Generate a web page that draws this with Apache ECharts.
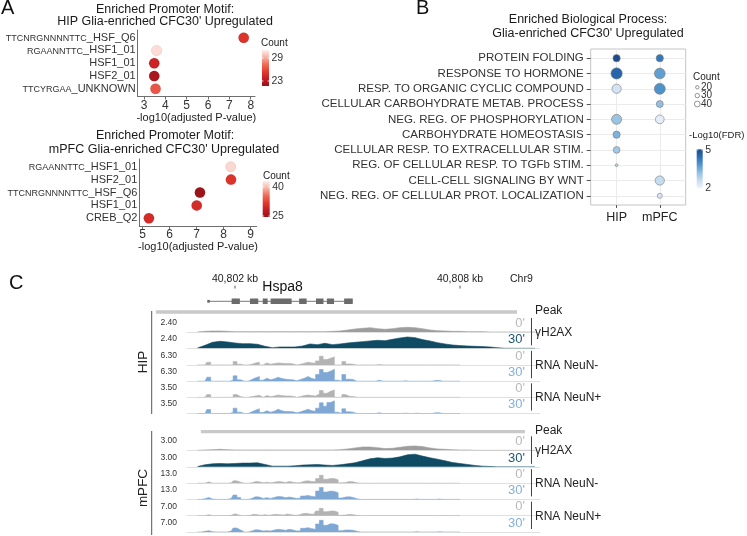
<!DOCTYPE html>
<html><head><meta charset="utf-8">
<script src="https://cdn.jsdelivr.net/npm/echarts@6/dist/echarts.min.js"></script>
<style>html,body{margin:0;padding:0;background:#fff}#c{width:747px;height:536px}</style>
</head><body><div id="c"></div>
<script>
// ================= DATA =================
// Panel A (top): HIP motifs
const A1_LABELS = ["TTCNRGNNNNTTC_HSF_Q6","RGAANNTTC_HSF1_01","HSF1_01","HSF2_01","TTCYRGAA_UNKNOWN"];
const A1_LOGP   = [7.67, 3.59, 3.48, 3.48, 3.54];
const A1_COUNT  = [25, 30.5, 24, 22.5, 26.5];
const A1_TICKS  = [3,4,5,6,7,8];
const A1_CBAR_TICKS = [29, 23];
// Panel A (bottom): mPFC motifs
const A2_LABELS = ["RGAANNTTC_HSF1_01","HSF2_01","TTCNRGNNNNTTC_HSF_Q6","HSF1_01","CREB_Q2"];
const A2_LOGP   = [8.26, 8.27, 7.12, 7.0, 5.23];
const A2_COUNT  = [41.5, 31, 25, 30, 30];
const A2_TICKS  = [5,6,7,8,9];
const A2_CBAR_TICKS = [40, 25];
// Panel B: GO biological process
const B_TERMS = ["PROTEIN FOLDING","RESPONSE TO HORMONE","RESP. TO ORGANIC CYCLIC COMPOUND","CELLULAR CARBOHYDRATE METAB. PROCESS","NEG. REG. OF PHOSPHORYLATION","CARBOHYDRATE HOMEOSTASIS","CELLULAR RESP. TO EXTRACELLULAR STIM.","REG. OF CELLULAR RESP. TO TGFb STIM.","CELL-CELL SIGNALING BY WNT","NEG. REG. OF CELLULAR PROT. LOCALIZATION"];
const B_GROUPS = ["HIP","mPFC"];
const B_HIP_COUNT  = [29,45,37,null,40,29,27,11,null,null];
const B_HIP_FDR    = [5.0,4.6,2.4,null,3.1,3.4,3.0,2.8,null,null];
const B_MPFC_COUNT = [29,43,44,28,35,null,null,null,37,20];
const B_MPFC_FDR   = [4.3,3.7,3.9,3.2,2.1,null,null,null,2.6,2.3];
const B_SIZE_LEGEND = [20,30,40];
const B_FDR_TICKS = [5,2];
// Panel C: genome browser (Chr9, kb)
const KB_TICKS = [40802, 40808];
const KB_TICK_LABELS = ["40,802 kb","40,808 kb"];
const CHROM = "Chr9";
const GENE_NAME = "Hspa8";
const GENE_SPAN = [40801.29, 40805.14];
const EXONS = [[40801.26,40801.33],[40801.91,40802.13],[40802.40,40802.62],[40802.74,40802.87],[40802.95,40803.51],[40803.71,40803.91],[40804.16,40804.36],[40804.45,40804.64],[40804.91,40805.14]];
const HIP_PEAK  = [40799.89, 40809.52];
const MPFC_PEAK = [40801.09, 40809.73];
// gamma-H2AX coverage bins: start 40801.0 kb, 0.2 kb steps (46 bins)
const GH_BIN_START = 40801.0, GH_BIN_KB = 0.2;
const HIP_GH_0  = [0,0.11,0.17,0.17,0.11,0.06,0.06,0.06,0.06,0.06, 0.06,0.06,0.06,0.06,0.06,0.06,0.06,0.06,0.11,0.17, 0.34,0.51,0.63,0.74,0.57,0.46,0.57,0.74,0.8,0.74, 0.57,0.34,0.23,0.17,0.11,0.11,0.06,0.06,0.06,0, 0,0,0,0,0,0];
const HIP_GH_30 = [0.06,0.51,1.03,1.2,1.09,0.91,0.8,0.8,0.69,0.34, 0.11,0.23,0.23,0.23,0.4,0.74,0.63,0.86,0.63,0.74, 0.91,1.03,1.14,1.26,1.37,1.31,1.54,1.77,1.94,1.83, 1.49,1.26,0.97,0.74,0.57,0.46,0.4,0.34,0.29,0.23, 0.11,0,0,0,0,0];
const MPFC_GH_0  = [0,0.07,0.14,0.21,0.14,0.07,0.07,0.07,0.07,0.07, 0.07,0.07,0.07,0.07,0.07,0.07,0.07,0.07,0.07,0.14, 0.29,0.5,0.71,0.71,0.57,0.36,0.43,0.64,0.86,0.93, 0.79,0.5,0.29,0.21,0.14,0.07,0.07,0,0,0, 0,0,0,0,0,0];
const MPFC_GH_30 = [0.07,0.43,0.64,0.71,0.64,0.71,0.79,0.79,0.86,0.5, 0.14,0.14,0.14,0.21,0.36,0.43,0.5,0.36,0.29,0.43, 0.64,0.86,1.29,1.71,1.93,1.79,1.86,2.14,2.57,2.71, 2.29,1.93,1.64,1.29,0.93,0.71,0.5,0.29,0.14,0.07, 0,0,0,0,0,0];
// RNA coverage bins: start 40801.0 kb, 0.1 kb steps (71 bins)
const RNA_BIN_START = 40801.0, RNA_BIN_KB = 0.1;
const HIP_NNEG_0 = [0,0,0,1.2,0,0,0,0,0,0, 1.5,0.3,0,0,0.3,0.9,1.2,0,0.9,0.3, 0.6,0.9,0.75,0.6,0.6,0.45,0,0.3,0.75,1.2, 0.9,0.75,1.8,3.9,2.4,3.0,3.6,0,0,1.5, 0.45,0.3,0,0,0,0,0,0,0.15,0, 0,0,0,0,0,0,0,0,0,0, 0,0,0,0,0,0,0,0,0,0,0];
const HIP_NNEG_30 = [0,0,0,1.8,0,0,0,0,0,0.45, 2.4,0.6,0,0,0.75,1.5,2.1,0.45,1.35,0.6, 1.05,1.8,1.2,0.9,0.75,0.6,0.15,0.75,1.35,2.1, 1.2,0.9,3.0,5.25,3.9,4.5,5.4,0.45,0,3.0, 0.9,0.75,0,0,0,0,0,0,0.45,0, 0,0,0,0,0,0.15,0,0,0,0, 0,0,0,0.3,0.3,0,0,0,0,0,0];
const HIP_NPOS_0 = [0,0,0,0.67,0,0,0,0,0,0, 0.67,0.17,0,0,0.17,0.33,0.5,0,0.42,0.17, 0.33,0.58,0.42,0.33,0.33,0.25,0,0.17,0.42,0.58, 0.42,0.33,0.83,1.67,1.0,1.5,1.83,0,0,0.67, 0.25,0.17,0,0,0,0,0,0,0,0, 0,0,0,0,0,0,0,0,0,0, 0,0,0,0,0,0,0,0,0,0,0];
const HIP_NPOS_30 = [0,0,0,1.0,0,0,0,0,0,0.25, 1.33,0.33,0,0,0.42,0.83,1.17,0.25,0.67,0.33, 0.58,1.08,0.67,0.5,0.5,0.42,0.17,0.42,0.75,1.08, 0.67,0.58,1.33,2.67,1.83,2.75,3.17,0.33,0,1.17, 0.42,0.33,0,0,0,0,0,0,0.17,0, 0,0,0,0,0,0.08,0,0,0.08,0, 0,0,0,0.17,0.17,0,0,0,0,0,0];
const MPFC_NNEG_0 = [0,0,0,1.24,0,0,0,0,0,0.31, 2.17,0.93,0,0,0.31,1.55,1.24,0.31,0.93,0.31, 0.93,1.55,1.24,0.62,1.55,0.93,0.31,0.62,1.86,2.17, 1.55,1.24,4.33,7.4,3.71,4.33,4.33,3.1,0.31,0.62, 1.55,1.24,0.31,0,0,0,0,0,0,0, 0,0,0,0,0,0,0,0,0,0, 0,0,0,0,0,0,0,0,0,0,0];
const MPFC_NNEG_30 = [0,0,0.62,1.86,0.31,0,0,0,0,0.93, 4.0,1.86,0,0,0.93,2.48,2.17,0.93,1.55,0.93, 1.86,2.79,2.48,1.55,2.17,1.55,0.93,1.24,3.1,3.71, 2.79,2.48,7.74,11.1,6.81,7.74,7.43,6.19,1.24,2.17, 2.48,1.86,0.62,0,0,0,0,0,0,0, 0,0,0,0,0,0,0,0,0.31,0, 0,0,0,0,0.31,0,0,0,0,0,0];
const MPFC_NPOS_0 = [0,0,0,0.5,0,0,0,0,0,0.17, 1.0,0.33,0,0,0.17,0.67,0.5,0.17,0.5,0.17, 0.5,0.67,0.5,0.33,0.83,0.5,0.17,0.33,1.0,1.17, 0.83,0.67,2.33,3.67,2.0,2.33,2.33,1.67,0.17,0.33, 0.67,0.5,0.17,0,0,0,0,0,0,0, 0,0,0,0,0,0,0,0,0,0, 0,0,0,0,0,0,0,0,0,0,0];
const MPFC_NPOS_30 = [0,0,0.33,0.67,0.17,0,0,0,0,0.5, 2.0,1.0,0,0,0.5,1.17,1.0,0.5,0.67,0.5, 1.0,1.33,1.17,0.83,1.33,1.0,0.5,0.67,1.83,2.17, 1.67,1.33,4.0,5.83,3.33,4.17,4.0,3.33,0.67,1.0, 1.0,0.83,0.33,0,0,0,0,0,0,0, 0,0,0,0,0,0,0,0,0.17,0, 0,0,0,0,0.17,0,0,0,0,0,0];
const HIP_RANGE = [2.4,2.4,6.3,6.3,3.5,3.5];
const HIP_RANGE_LABELS = ["2.40","2.40","6.30","6.30","3.50","3.50"];
const MPFC_RANGE = [3,3,13,13,7,7];
const MPFC_RANGE_LABELS = ["3.00","3.00","13.0","13.0","7.00","7.00"];
const TRACK_TIMES = ["0'","30'","0'","30'","0'","30'"];
const TRACK_GROUPS = ["γH2AX","RNA NeuN-","RNA NeuN+"];

// ================= STYLE / LAYOUT =================
const FONT = '"Liberation Sans", Arial, Helvetica, sans-serif';
const AX = '#6e6e6e';
const REDS = ['#981217','#c21d24','#e43a2d','#ee6c58','#f6b3a5','#fdf0ec'];
const BLUES = ['#eef3fb','#c9ddf0','#93c0e1','#5598cc','#2b6fb5','#1a4a8a'];
const C_GH0 = '#9d9d9d', C_GH30 = '#0f4b63', C_RNA0 = '#b3b3b3', C_RNA30 = '#7ea8d3';
const T_GH30 = '#1c5671', T_RNA30 = '#86afd7', T_0 = '#b9b9b9';
const KB0 = 40802, PX0 = 235, PX_PER_KB = 37.5;
const kbAt = px => KB0 + (px - PX0) / PX_PER_KB;
const HIP_BASES = [332, 348.3, 364.9, 381.2, 397.3, 413.5];
const MPFC_BASES = [450.3, 466.8, 483.2, 499.4, 515.7, 532];
const TRACK_H = 14;

const chart = echarts.init(document.getElementById('c'), null, {renderer:'canvas', width:747, height:536});

function T(x, y, text, size, color, align, valign, extra) {
  align = align || 'left'; valign = valign || 'middle';
  return Object.assign({type:'text', silent:true, z:20, style:{x:x, y:y, text:text, font:size+'px '+FONT, fill:color, textAlign:align, textVerticalAlign:valign, align:align, verticalAlign:valign}}, extra || {});
}
function L(x1,y1,x2,y2,color,w){ return {type:'line', silent:true, z:20, shape:{x1,y1,x2,y2}, style:{stroke:color, lineWidth:w||1}}; }
function motifLabel(lab){
  const m = lab.match(/^([ACGTNRYWSKM]+)(_.*)$/);
  return m ? '{s|'+m[1]+'}{b|'+m[2]+'}' : '{b|'+lab+'}';
}
const motifRich = { s:{fontSize:9, fontFamily:FONT, color:'#333', verticalAlign:'bottom'}, b:{fontSize:11, fontFamily:FONT, color:'#333', verticalAlign:'bottom'} };
const idx = n => Array.from({length:n}, (_, i) => i + 1);

const grids = [], xAxes = [], yAxes = [], series = [], gfx = [];

// ---------- Panel A ----------
function panelA(gi, grid, xmin, xmax, ticks, labels, logp, count, nameGap) {
  grids.push(grid);
  xAxes.push({gridIndex:gi, type:'value', min:xmin, max:xmax,
    axisLine:{show:true, lineStyle:{color:AX, width:1}},
    axisTick:{show:true, length:3, lineStyle:{color:AX}, customValues:ticks},
    axisLabel:{customValues:ticks, fontSize:12, color:'#333', margin:3, fontFamily:FONT},
    splitLine:{show:false}, name:'-log10(adjusted P-value)', nameLocation:'middle', nameGap:nameGap,
    nameTextStyle:{fontSize:11, color:'#222', fontFamily:FONT}});
  yAxes.push({gridIndex:gi, type:'value', inverse:true, min:0.4, max:5.6,
    axisLine:{show:true, onZero:false, lineStyle:{color:AX, width:1}},
    axisTick:{show:false, customValues:idx(labels.length)},
    axisLabel:{customValues:idx(labels.length), margin:2, formatter:v => motifLabel(labels[Math.round(v)-1]), rich:motifRich},
    splitLine:{show:false}});
  series.push({type:'scatter', xAxisIndex:gi, yAxisIndex:gi, symbolSize:10.5,
    itemStyle:{opacity:1, borderColor:'rgba(0,0,0,0.12)', borderWidth:0.5},
    data: logp.map((p,i) => [p, i+1, count[i]])});
}
panelA(0, {left:137.7, top:30, width:117.3, height:66.5}, 2.705, 8.2, A1_TICKS, A1_LABELS, A1_LOGP, A1_COUNT, 15);
panelA(1, {left:139.3, top:159, width:117.4, height:67}, 4.874, 9.222, A2_TICKS, A2_LABELS, A2_LOGP, A2_COUNT, 12);

// ---------- Panel B ----------
grids.push({left:590.7, top:49, width:95, height:156, show:true, borderColor:'#c4c4c4', borderWidth:1, backgroundColor:'#fff'});
xAxes.push({gridIndex:2, type:'value', min:0.4, max:2.6,
  axisLine:{show:false}, axisTick:{show:true, length:3, lineStyle:{color:'#555'}, customValues:[1,2]},
  axisLabel:{customValues:[1,2], formatter:v => B_GROUPS[Math.round(v)-1], fontSize:12.5, color:'#222', margin:6, fontFamily:FONT},
  splitLine:{show:true, lineStyle:{color:'#ebebeb', width:1}}});
yAxes.push({gridIndex:2, type:'value', inverse:true, min:0.4, max:10.6,
  axisLine:{show:false}, axisTick:{show:true, length:4, lineStyle:{color:'#555'}, customValues:idx(10)},
  axisLabel:{customValues:idx(10), formatter:v => B_TERMS[Math.round(v)-1], fontSize:11.5, color:'#333', margin:7, fontFamily:FONT},
  splitLine:{show:true, lineStyle:{color:'#ebebeb', width:1}}});
[[B_HIP_COUNT, B_HIP_FDR, 1],[B_MPFC_COUNT, B_MPFC_FDR, 2]].forEach(([cnt, fdr, g]) => {
  series.push({type:'scatter', xAxisIndex:2, yAxisIndex:2, symbolSize:v => v[2]/4,
    itemStyle:{opacity:1, borderColor:'#7a7a7a', borderWidth:0.6},
    data: cnt.map((c,i) => c == null ? null : [g, i+1, c, fdr[i]]).filter(d => d)});
});

// ---------- Panel C header (grid 3) ----------
grids.push({left:150, top:272, width:395, height:44});
xAxes.push({gridIndex:3, type:'value', min:kbAt(150), max:kbAt(545), show:false});
yAxes.push({gridIndex:3, type:'value', min:0, max:44, inverse:true, show:false});
series.push({type:'custom', xAxisIndex:3, yAxisIndex:3, silent:true, data:KB_TICKS.map((k,i)=>[k,i]),
  renderItem:(p, api) => {
    const x = api.coord([api.value(0), 0])[0];
    const yt = api.coord([0, 13.7])[1], yb = api.coord([0, 16.5])[1], yl = api.coord([0, 7])[1];
    return {type:'group', children:[
      {type:'line', shape:{x1:x, y1:yt, x2:x, y2:yb}, style:{stroke:'#555', lineWidth:1}},
      {type:'text', style:{x:x, y:yl, text:KB_TICK_LABELS[api.value(1)], font:'10.5px '+FONT, fill:'#222', textAlign:'center', textVerticalAlign:'middle', align:'center', verticalAlign:'middle'}}]};
  }});
series.push({type:'custom', xAxisIndex:3, yAxisIndex:3, silent:true, data:[GENE_SPAN],
  renderItem:(p, api) => {
    const a = api.coord([api.value(0), 29.3]), b = api.coord([api.value(1), 29.3]);
    const ty = api.coord([0, 15.3])[1];
    return {type:'group', children:[
      {type:'line', shape:{x1:a[0], y1:a[1], x2:b[0], y2:b[1]}, style:{stroke:'#7a7a7a', lineWidth:1}},
      {type:'text', style:{x:(a[0]+b[0])/2 + 2, y:ty, text:GENE_NAME, font:'14px '+FONT, fill:'#111', textAlign:'center', textVerticalAlign:'middle', align:'center', verticalAlign:'middle'}}]};
  }});
series.push({type:'custom', xAxisIndex:3, yAxisIndex:3, silent:true, data:EXONS.map((e,i)=>[e[0], e[1], i]),
  renderItem:(p, api) => {
    const small = api.value(2) === 0;
    const a = api.coord([api.value(0), small ? 27.9 : 26.5]), b = api.coord([api.value(1), small ? 30.7 : 32]);
    return {type:'rect', shape:{x:a[0], y:a[1], width:Math.max(b[0]-a[0], 2), height:b[1]-a[1]}, style:{fill:'#6b6b6b'}};
  }});
series.push({type:'custom', xAxisIndex:3, yAxisIndex:3, silent:true, data:[HIP_PEAK],
  renderItem:(p, api) => {
    const a = api.coord([api.value(0), 38.3]), b = api.coord([api.value(1), 41.7]);
    return {type:'rect', shape:{x:a[0], y:a[1], width:b[0]-a[0], height:b[1]-a[1]}, style:{fill:'#c9c9c9'}};
  }});
// mPFC peak (grid 4)
grids.push({left:150, top:428, width:395, height:8});
xAxes.push({gridIndex:4, type:'value', min:kbAt(150), max:kbAt(545), show:false});
yAxes.push({gridIndex:4, type:'value', min:0, max:8, inverse:true, show:false});
series.push({type:'custom', xAxisIndex:4, yAxisIndex:4, silent:true, data:[MPFC_PEAK],
  renderItem:(p, api) => {
    const a = api.coord([api.value(0), 2.0]), b = api.coord([api.value(1), 5.3]);
    return {type:'rect', shape:{x:a[0], y:a[1], width:b[0]-a[0], height:b[1]-a[1]}, style:{fill:'#c9c9c9'}};
  }});

// ---------- Panel C tracks ----------
const GH_POS = HIP_GH_0.map((_, i) => GH_BIN_START + GH_BIN_KB * i);
const RNA_POS = HIP_NNEG_0.map((_, i) => RNA_BIN_START + RNA_BIN_KB * i);
const SETS = [
  {bases:HIP_BASES, ranges:HIP_RANGE, labels:HIP_RANGE_LABELS, data:[HIP_GH_0, HIP_GH_30, HIP_NNEG_0, HIP_NNEG_30, HIP_NPOS_0, HIP_NPOS_30]},
  {bases:MPFC_BASES, ranges:MPFC_RANGE, labels:MPFC_RANGE_LABELS, data:[MPFC_GH_0, MPFC_GH_30, MPFC_NNEG_0, MPFC_NNEG_30, MPFC_NPOS_0, MPFC_NPOS_30]}
];
SETS.forEach(set => {
  set.data.forEach((vals, t) => {
    const gi = grids.length, b = set.bases[t], isGH = t < 2, late = t % 2 === 1;
    const color = isGH ? (late ? C_GH30 : C_GH0) : (late ? C_RNA30 : C_RNA0);
    grids.push({left:187, top:b - TRACK_H, width:353, height:TRACK_H});
    xAxes.push({gridIndex:gi, type:'value', min:kbAt(187), max:kbAt(540),
      axisLine:{show:true, lineStyle:{color:'#e0e0e0', width:1}}, axisTick:{show:false}, axisLabel:{show:false}, splitLine:{show:false}});
    yAxes.push({gridIndex:gi, type:'value', min:0, max:set.ranges[t],
      axisLine:{show:false}, axisTick:{show:false}, splitLine:{show:false},
      axisLabel:{show:true, customValues:[set.ranges[t]], formatter:() => set.labels[t], fontSize:8.5, color:'#333', margin:10, verticalAlign:'top', fontFamily:FONT}});
    const pos = isGH ? GH_POS : RNA_POS;
    series.push({type:'line', xAxisIndex:gi, yAxisIndex:gi, silent:true, symbol:'none', showSymbol:false,
      step: isGH ? false : 'middle', lineStyle:{color:color, width:0.6}, areaStyle:{color:color, opacity:1},
      data: vals.map((v, i) => [pos[i], v])});
    gfx.push(T(525, b - 8.8, TRACK_TIMES[t], 13, late ? (isGH ? T_GH30 : T_RNA30) : T_0, 'right'));
  });
  for (let g = 0; g < 3; g++) {
    const y1 = set.bases[2*g] - 14, y2 = set.bases[2*g+1] - 3;
    gfx.push(L(531.5, y1, 531.5, y2, '#444', 1));
    gfx.push(T(535, (y1 + y2)/2 + 1, TRACK_GROUPS[g], 12, '#222', 'left'));
  }
});

// ---------- graphics: titles, legends, labels ----------
gfx.push(T(1, 8, 'A', 20, '#111', 'left'));
gfx.push(T(416, 8.5, 'B', 20, '#111', 'left'));
gfx.push(T(9, 283, 'C', 20, '#111', 'left'));
gfx.push(T(165, 10, 'Enriched Promoter Motif:', 12.5, '#1a1a1a', 'center'));
gfx.push(T(165, 22, "HIP Glia-enriched CFC30' Upregulated", 12.5, '#1a1a1a', 'center'));
gfx.push(T(165, 136, 'Enriched Promoter Motif:', 12.5, '#1a1a1a', 'center'));
gfx.push(T(164, 150, "mPFC Glia-enriched CFC30' Upregulated", 12.5, '#1a1a1a', 'center'));
gfx.push(T(588, 20, 'Enriched Biological Process:', 12.5, '#1a1a1a', 'center'));
gfx.push(T(588, 33.3, "Glia-enriched CFC30' Upregulated", 12.5, '#1a1a1a', 'center'));

function colorbar(x, top, w, h, vmin, vmax, colors, ticks, title, tx, ty, tsize) {
  const stops = colors.slice().reverse().map((c, i, arr) => ({offset:i/(arr.length-1), color:c}));
  gfx.push({type:'rect', silent:true, z:20, shape:{x:x, y:top, width:w, height:h}, style:{fill:new echarts.graphic.LinearGradient(0,0,0,1,stops)}});
  ticks.forEach(v => {
    const y = top + (vmax - v)/(vmax - vmin) * h;
    gfx.push(L(x, y, x + 1.5, y, '#fff', 0.8));
    gfx.push(L(x + w - 1.5, y, x + w, y, '#fff', 0.8));
    gfx.push(T(x + w + 2.5, y, String(v), 10.5, '#333', 'left'));
  });
  gfx.push(T(tx, ty, title, tsize || 10, '#222', 'left'));
}
colorbar(262, 50, 7, 36, 21.7, 31.1, REDS, A1_CBAR_TICKS, 'Count', 261, 43.3);
colorbar(262.7, 181, 7, 36, 24.5, 43, REDS, A2_CBAR_TICKS, 'Count', 263, 176.7);
colorbar(696.7, 149.3, 6, 39, 1.95, 5.05, BLUES, B_FDR_TICKS, '-Log10(FDR)', 689, 135, 9.5);
// B size legend
gfx.push(T(693, 77, 'Count', 10, '#222', 'left'));
const LEG_R = [1.7, 2.2, 2.9], LEG_Y = [87.3, 95.6, 104];
B_SIZE_LEGEND.forEach((c, i) => {
  gfx.push({type:'circle', silent:true, z:20, shape:{cx:697.3, cy:LEG_Y[i], r:LEG_R[i]}, style:{fill:'#fff', stroke:'#666', lineWidth:0.7}});
  gfx.push(T(701, LEG_Y[i], String(c), 10, '#333', 'left'));
});
// C extras
gfx.push(T(510, 279, CHROM, 10.5, '#222', 'left'));
gfx.push(T(535, 310.5, 'Peak', 12, '#222', 'left'));
gfx.push(T(535, 430.5, 'Peak', 12, '#222', 'left'));
gfx.push(L(151.7, 311, 151.7, 414, '#555', 1));
gfx.push(L(151.7, 431, 151.7, 535, '#555', 1));
gfx.push(T(0, 0, 'HIP', 13.5, '#222', 'center', 'middle', {x:143, y:362, rotation:Math.PI/2}));
gfx.push(T(0, 0, 'mPFC', 13.5, '#222', 'center', 'middle', {x:143, y:488, rotation:Math.PI/2}));

const option = {
  animation:false,
  backgroundColor:'#fff',
  textStyle:{fontFamily:FONT},
  grid:grids, xAxis:xAxes, yAxis:yAxes,
  visualMap:[
    {type:'continuous', show:false, seriesIndex:0, dimension:2, min:21.7, max:31.1, inRange:{color:REDS}},
    {type:'continuous', show:false, seriesIndex:1, dimension:2, min:24.5, max:43, inRange:{color:REDS}},
    {type:'continuous', show:false, seriesIndex:[2,3], dimension:3, min:1.95, max:5.05, inRange:{color:BLUES}}
  ],
  series:series,
  graphic:{elements:gfx}
};
chart.setOption(option);
</script>
</body></html>
